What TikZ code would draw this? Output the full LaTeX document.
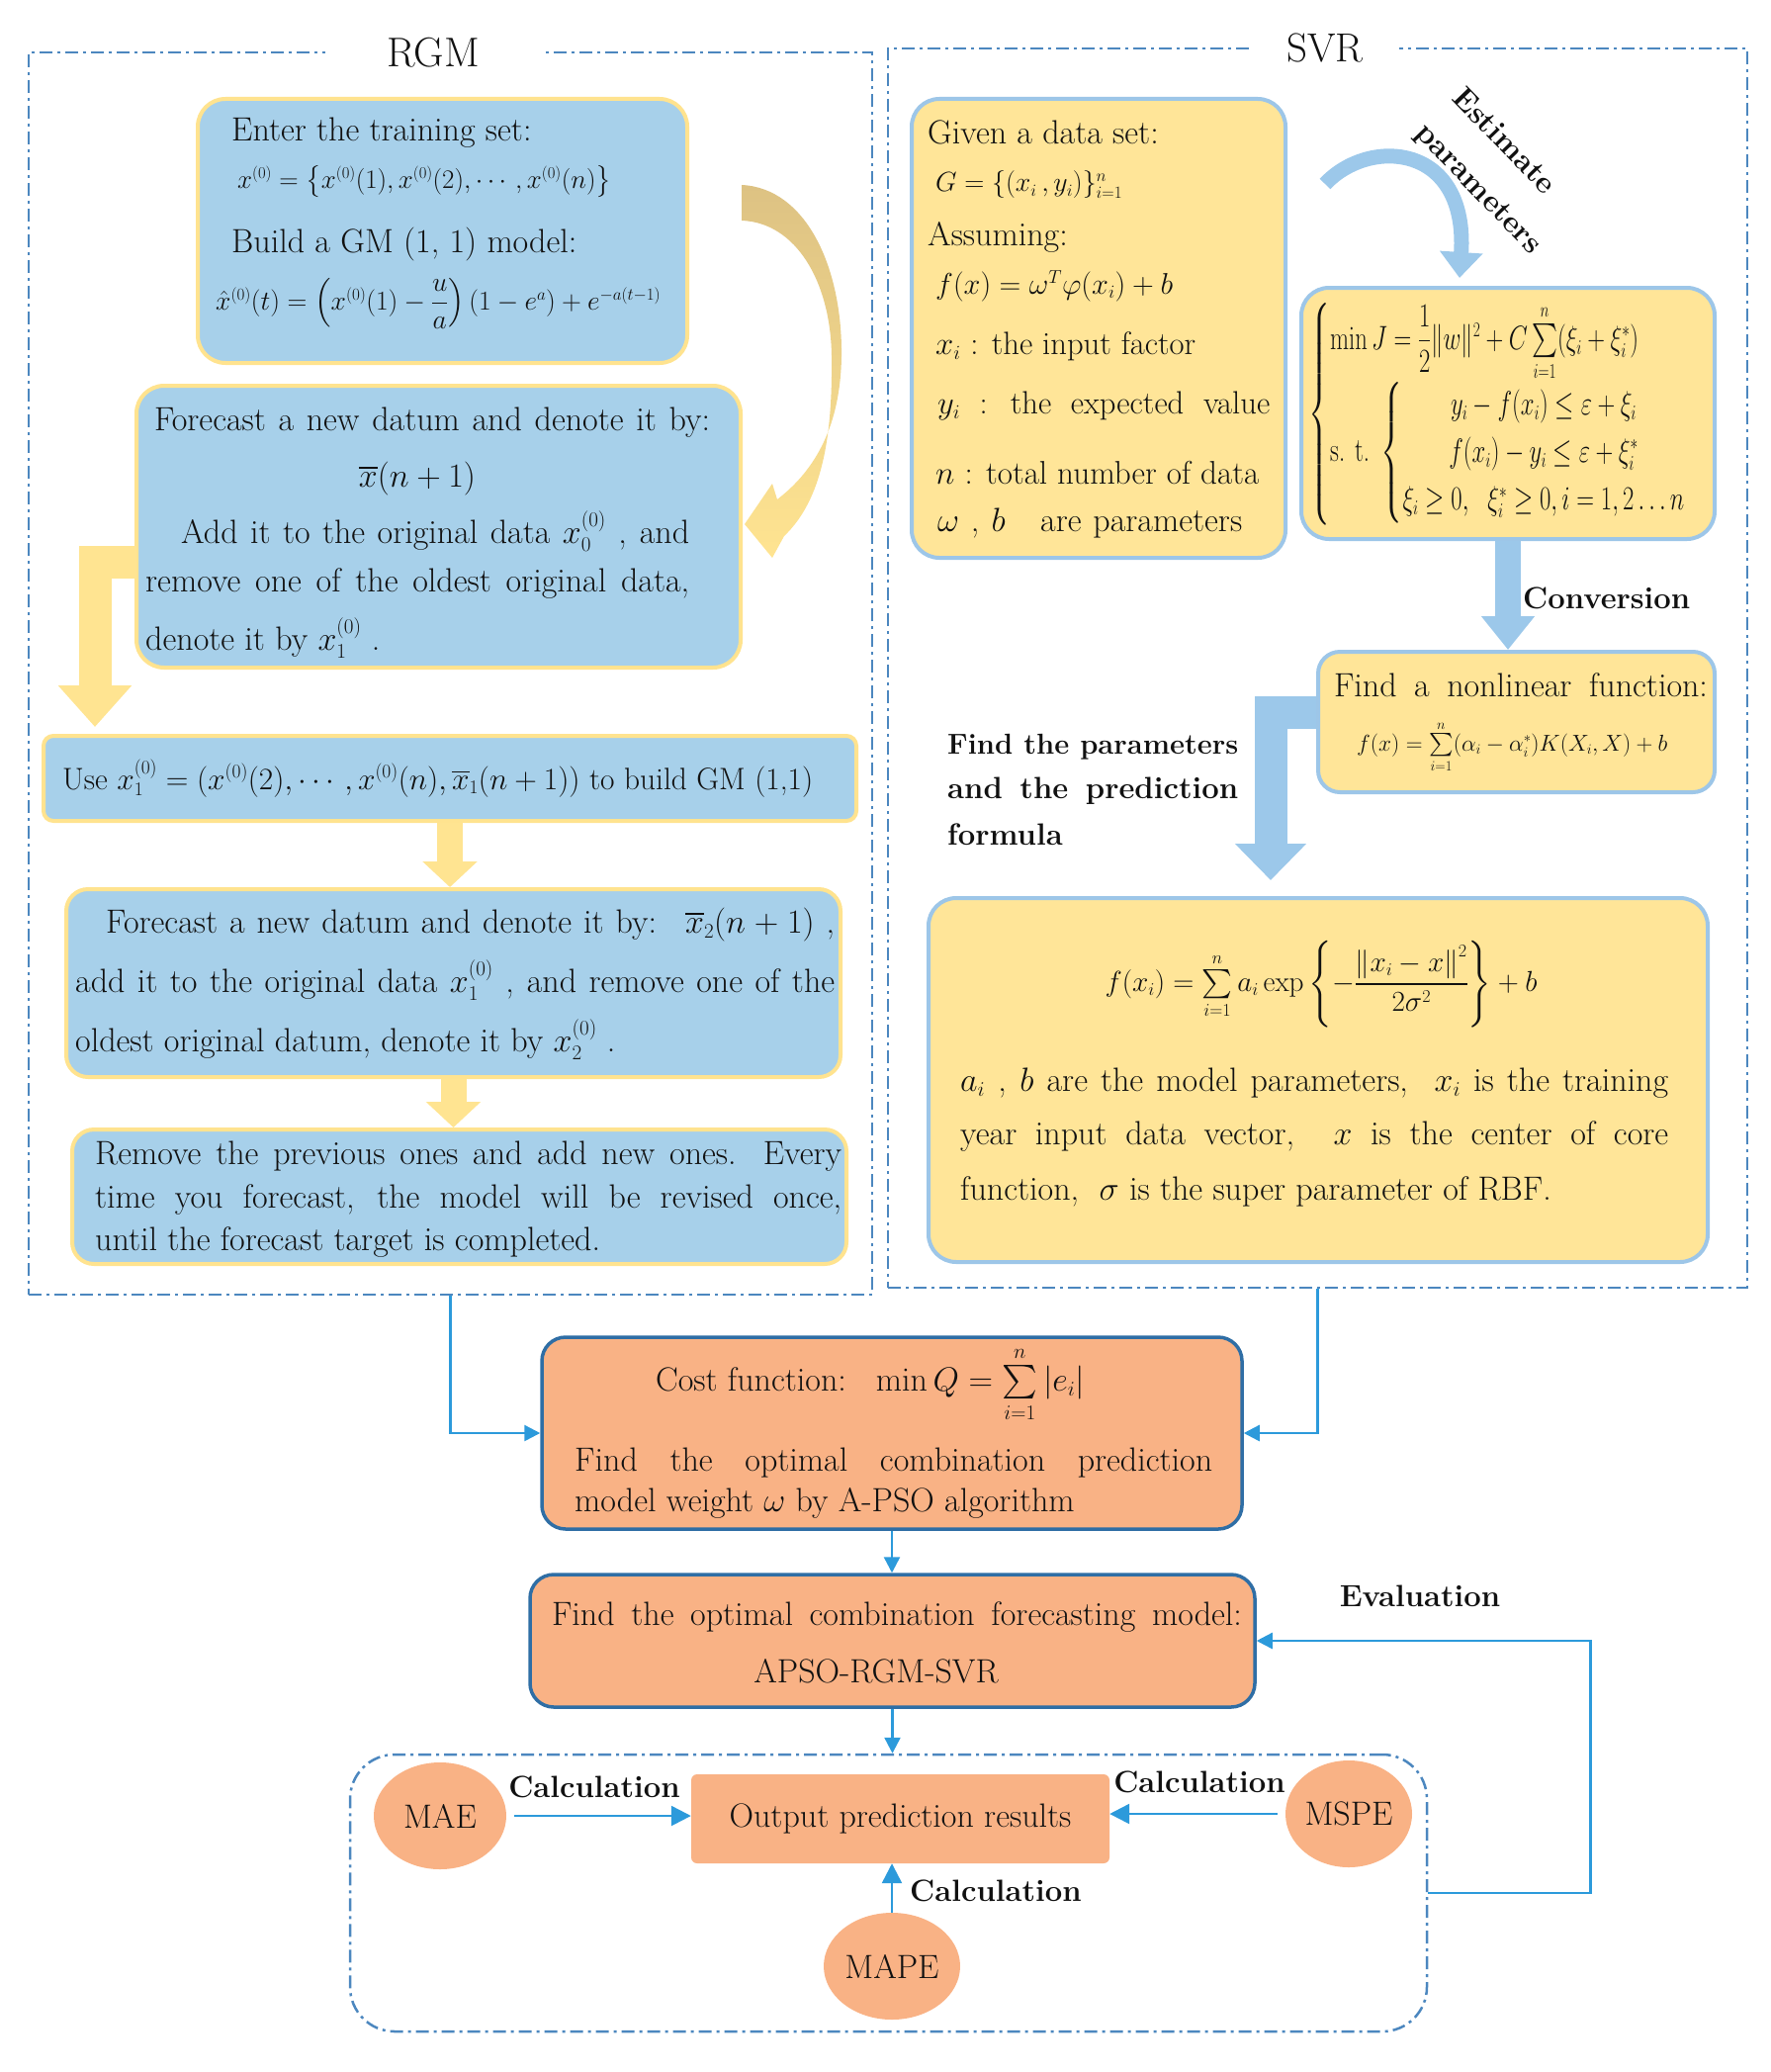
\RequirePackage{fix-cm}
\documentclass[tikz,border=0pt]{standalone}
\usepackage{amsmath,amssymb}
\usepackage{graphicx}
\usetikzlibrary{arrows.meta,shapes.geometric,calc}
\definecolor{rgmfill}{HTML}{A7D0EA}
\definecolor{rgmline}{HTML}{FFE38F}
\definecolor{svrfill}{HTML}{FFE598}
\definecolor{svrline}{HTML}{9DC6E8}
\definecolor{orfill}{HTML}{F9B285}
\definecolor{orline}{HTML}{2F6EA5}
\definecolor{yarw}{HTML}{FFE491}
\definecolor{ytan}{HTML}{DDC283}
\definecolor{barw}{HTML}{9CC8EA}
\definecolor{connc}{HTML}{2C9ADB}
\definecolor{framec}{HTML}{4C87BF}
\definecolor{ink}{HTML}{111111}
\renewcommand\defaultscriptratio{.62}
\renewcommand\defaultscriptscriptratio{.48}
\newsavebox\jlbox
\newcommand\jline[2]{\sbox\jlbox{#2}\ifdim\wd\jlbox>#1\relax\resizebox{#1}{!}{\usebox\jlbox}\else\makebox[#1][s]{#2}\fi}
\begin{document}
\begin{tikzpicture}[x=1pt,y=-1pt,
  txt/.style={inner sep=0pt, text=ink, font=\fontsize{34}{40}\selectfont},
  bld/.style={inner sep=0pt, text=ink, font=\fontsize{31}{37}\selectfont\bfseries},
  rgmbox/.style={draw=rgmline, fill=rgmfill, line width=4pt, rounded corners=28pt, inner sep=0pt},
  svrbox/.style={draw=svrline, fill=svrfill, line width=4pt, rounded corners=28pt, inner sep=0pt},
  orbox/.style={draw=orline, fill=orfill, line width=3.5pt, rounded corners=24pt, inner sep=0pt},
  frm/.style={draw=framec, line width=2.5pt, dash pattern=on 13pt off 5pt on 3pt off 5pt, inner sep=0pt},
  yblk/.style={draw=yarw, line join=miter},
  bblk/.style={draw=barw, line join=miter},
  cn/.style={draw=connc, line width=2.5pt, -{Triangle[width=16pt,length=16pt]}},
  cnb/.style={draw=connc, line width=2.5pt, -{Triangle[width=20pt,length=20pt]}},
  oval/.style={ellipse, fill=orfill, inner sep=0pt, minimum width=134pt, minimum height=108pt, text=ink, font=\fontsize{34}{40}\selectfont},
]
\useasboundingbox (0,0) rectangle (1790,2095);

% ---------- frames ----------
\node[frm, minimum width=853pt, minimum height=1256pt] (rgm) at (455.5,681) {};
\node[frm, minimum width=869pt, minimum height=1253pt] (svr) at (1332.5,675.5) {};
\node[txt, fill=white, inner xsep=62pt, inner ysep=4pt, font=\fontsize{42}{46}\selectfont] (rgmt) at (438,53) {RGM};
\node[txt, fill=white, inner xsep=36pt, inner ysep=4pt, font=\fontsize{41}{45}\selectfont] (svrt) at (1340,49) {SVR};
\node[frm, rounded corners=45pt, minimum width=1089pt, minimum height=280pt] (evalframe) at (898.5,1914) {};

% ---------- RGM boxes ----------
\node[rgmbox, minimum width=495pt, minimum height=267pt] (b1) at (447.5,233.5) {};
\node[rgmbox, minimum width=611pt, minimum height=285pt] (b2) at (443.5,532.5) {};
\node[rgmbox, rounded corners=10pt, minimum width=822pt, minimum height=86pt] (b3) at (455,787) {};
\node[rgmbox, rounded corners=22pt, minimum width=783pt, minimum height=190pt] (b4) at (458.5,994) {};
\node[rgmbox, rounded corners=22pt, minimum width=783pt, minimum height=136pt] (b5) at (464.5,1210) {};

% yellow block arrows
\shade[top color=ytan, middle color=yarw, bottom color=yarw, shading angle=0]
 (750,187) .. controls (815,190) and (852,270) .. (851,360)
 .. controls (850,430) and (825,475) .. (786,505)
 -- (781,489) -- (753,530) -- (781,564) -- (793,542)
 .. controls (832,505) and (842,440) .. (841,360)
 .. controls (840,285) and (805,225) .. (750,223) -- cycle;
\draw[yblk, line width=33pt, -{Triangle[width=72pt,length=42pt]}]
  ($(b2.west)+(2,36)$) -| ($(b3.north west)+(54,-7)$);
\draw[yblk, line width=26pt, -{Triangle[width=54pt,length=26pt]}] (b3.south) -- (b3.south |- b4.north);
\draw[yblk, line width=26pt, -{Triangle[width=54pt,length=26pt]}] (b4.south) -- (b4.south |- b5.north);

% box 1 text
\node[txt, anchor=west] (t1a) at (234,134) {Enter the training set:};
\node[txt, anchor=west] (t1b) at (240,184) {\resizebox{378pt}{!}{$x^{(0)}=\left\{x^{(0)}(1),x^{(0)}(2),\cdots,x^{(0)}(n)\right\}$}};
\node[txt, anchor=west] (t1c) at (234,247) {Build a GM (1, 1) model:};
\node[txt, anchor=west] (t1d) at (218,307) {\resizebox{450pt}{!}{$\hat{x}^{(0)}(t)=\left(x^{(0)}(1)-\dfrac{u}{a}\right)(1-e^{a})+e^{-a(t-1)}$}};

% box 2 text
\node[txt] (t2a) at (437,427) {\jline{562pt}{Forecast a new datum and denote it by:}};
\node[txt] (t2b) at (422,484) {$\overline{x}(n+1)$};
\node[txt, anchor=west] (t2c) at (183,537) {\jline{514pt}{Add it to the original data $x_0^{(0)}$ , and}};
\node[txt, anchor=west] (t2d) at (147,590) {\jline{550pt}{remove one of the oldest original data,}};
\node[txt, anchor=west] (t2e) at (147,645) {denote it by $x_1^{(0)}$ .};

% box 3 text
\node[txt, anchor=west] (t3) at (63,787) {\jline{759pt}{Use $x_1^{(0)}=(x^{(0)}(2),\cdots,x^{(0)}(n),\overline{x}_1(n+1))$ to build GM (1,1)}};

% box 4 text
\node[txt, anchor=west] (t4a) at (107,935) {\jline{737pt}{Forecast a new datum and denote it by: \ $\overline{x}_2(n+1)$ ,}};
\node[txt, anchor=west] (t4b) at (76,991) {\jline{768pt}{add it to the original data $x_1^{(0)}$ , and remove one of the}};
\node[txt, anchor=west] (t4c) at (76,1051) {oldest original datum, denote it by $x_2^{(0)}$ .};

% box 5 text
\node[txt, anchor=west] (t5a) at (96,1169) {\jline{755pt}{Remove the previous ones and add new ones. Every}};
\node[txt, anchor=west] (t5b) at (96,1213) {\jline{755pt}{time you forecast, the model will be revised once,}};
\node[txt, anchor=west] (t5c) at (96,1256) {until the forecast target is completed.};

% ---------- SVR boxes ----------
\node[svrbox, minimum width=378pt, minimum height=464pt] (sa) at (1111,332) {};
\node[svrbox, minimum width=418pt, minimum height=254pt] (minj) at (1525,418) {};
\node[svrbox, rounded corners=22pt, minimum width=401pt, minimum height=142pt] (nonlin) at (1533.5,730) {};
\node[svrbox, minimum width=788pt, minimum height=368pt] (big) at (1333,1092) {};

% blue block arrows
\draw[bblk, line width=15pt, -{Triangle[width=42pt,length=26pt]}]
  ($(sa.north east)+(38,88)$) .. controls (1385,138) and (1485,145) .. ($(minj.north)+(-49,-8)$);
\draw[bblk, line width=26pt, -{Triangle[width=52pt,length=34pt]}] (minj.south) -- (minj.south |- nonlin.north);
\draw[bblk, line width=33pt, -{Triangle[width=70pt,length=37pt]}]
  ($(nonlin.west)+(0,-10)$) -| ($(big.north)+(-48,-16)$);

\node[bld, rotate=-46] (est1) at (1522,142) {Estimate};
\node[bld, rotate=-46] (est2) at (1494,192) {parameters};
\node[bld, anchor=west] (conv) at (1540,605) {Conversion};

% given box text
\node[txt, anchor=west] (sa1) at (938,134) {Given a data set:};
\node[txt, anchor=west] (sa2) at (946,187) {\jline{189pt}{$G=\{(x_i\,,y_i)\}_{i=1}^{n}$}};
\node[txt, anchor=west] (sa3) at (938,240) {Assuming:};
\node[txt, anchor=west] (sa4) at (946,289) {\jline{240pt}{$f(x)=\omega^{T}\varphi(x_i)+b$}};
\node[txt, anchor=west] (sa5) at (946,350) {\jline{263pt}{$x_i$ : the input factor}};
\node[txt, anchor=west] (sa6) at (948,410) {\jline{336pt}{$y_i$ \ : \ the \ expected \ value}};
\node[txt, anchor=west] (sa7) at (946,478) {\jline{327pt}{$n$ : total number of data}};
\node[txt, anchor=west] (sa8) at (948,529) {\jline{308pt}{$\omega$ , $b$ \ \ are parameters}};

% min J
\node[txt, anchor=west] (mj) at (1323,419) {\resizebox*{382pt}{225pt}{\renewcommand\arraystretch{1.2}$\left\{\begin{array}{@{}l@{}}
 \min J=\dfrac{1}{2}\|w\|^{2}+C\sum\limits_{i=1}^{n}(\xi_i+\xi_i^{*})\\[2pt]
 \text{s. t.}\ \left\{\begin{array}{@{}c@{}}
   y_i-f(x_i)\le\varepsilon+\xi_i\\
   f(x_i)-y_i\le\varepsilon+\xi_i^{*}\\
   \xi_i\ge0,\ \ \xi_i^{*}\ge0, i=1,2\ldots n
 \end{array}\right.
 \end{array}\right.$}};

% nonlinear
\node[txt] (nl1) at (1538,693) {\jline{378pt}{Find a nonlinear function:}};
\node[txt, anchor=west] (nl2) at (1372,755) {\resizebox{314pt}{!}{$f(x)=\sum\limits_{i=1}^{n}(\alpha_i-\alpha_i^{*})K(X_i,X)+b$}};

% find the parameters
\node[bld, anchor=west] (fp1) at (958,755) {\jline{294pt}{Find the parameters}};
\node[bld, anchor=west] (fp2) at (958,800) {\jline{294pt}{and the prediction}};
\node[bld, anchor=west] (fp3) at (958,844) {formula};

% big box
\node[txt] (bg1) at (1336,995) {\resizebox{437pt}{!}{$f(x_i)=\sum\limits_{i=1}^{n}a_i\exp\left\{-\dfrac{\left\|x_i-x\right\|^{2}}{2\sigma^{2}}\right\}+b$}};
\node[txt, anchor=west] (bg2) at (971,1095) {\jline{716pt}{$a_i$ , $b$ are the model parameters, \ $x_i$ is the training}};
\node[txt, anchor=west] (bg3) at (971,1149) {\jline{716pt}{year input data vector, \ $x$ is the center of core}};
\node[txt, anchor=west] (bg4) at (971,1205) {function, \ $\sigma$ is the super parameter of RBF.};

% ---------- bottom ----------
\node[orbox, minimum width=708pt, minimum height=194pt] (cost) at (902,1449) {};
\node[txt] (c1) at (880,1400) {Cost function:\hspace{30pt}$\min Q=\sum\limits_{i=1}^{n}\left|e_i\right|$};
\node[txt, anchor=west] (c2) at (581,1479) {\jline{645pt}{Find the optimal combination prediction}};
\node[txt, anchor=west] (c3) at (581,1520) {model weight $\omega$ by A-PSO algorithm};

\node[orbox, minimum width=733pt, minimum height=134pt] (opt) at (902.5,1659) {};
\node[txt] (o1) at (907,1635) {\jline{698pt}{Find the optimal combination forecasting model:}};
\node[txt] (o2) at (886,1690) {APSO-RGM-SVR};

\node[fill=orfill, rounded corners=6pt, minimum width=423pt, minimum height=90pt, inner sep=0pt, text=ink, font=\fontsize{34}{40}\selectfont] (out) at (910.5,1839) {Output prediction results};
\node[oval] (mae) at (445,1836) {MAE};
\node[oval, minimum width=128pt] (mspe) at (1364,1834) {MSPE};
\node[oval, minimum width=138pt] (mape) at (902,1988) {MAPE};

\node[bld] (lc1) at (601,1807) {Calculation};
\node[bld] (lc2) at (1213,1802) {Calculation};
\node[bld, anchor=west] (lc3) at (920,1912) {Calculation};
\node[bld] (lev) at (1436,1614) {Evaluation};

% connectors
\draw[cn] (rgm.south) |- (cost.west);
\draw[cn] (svr.south) |- (cost.east);
\draw[cn] (cost.south) -- (cost.south |- opt.north);
\draw[cn] (opt.south) -- (opt.south |- evalframe.north);
\draw[cn] (evalframe.east) -- ++(164,0) |- (opt.east);
\draw[cnb] ($(mae.east)+(8,0)$) -- (mae.east -| out.west);
\draw[cnb] ($(mspe.west)+(-8,0)$) -- (mspe.west -| out.east);
\draw[cnb] (mape.north) -- (mape.north |- out.south);
\end{tikzpicture}
\end{document}
